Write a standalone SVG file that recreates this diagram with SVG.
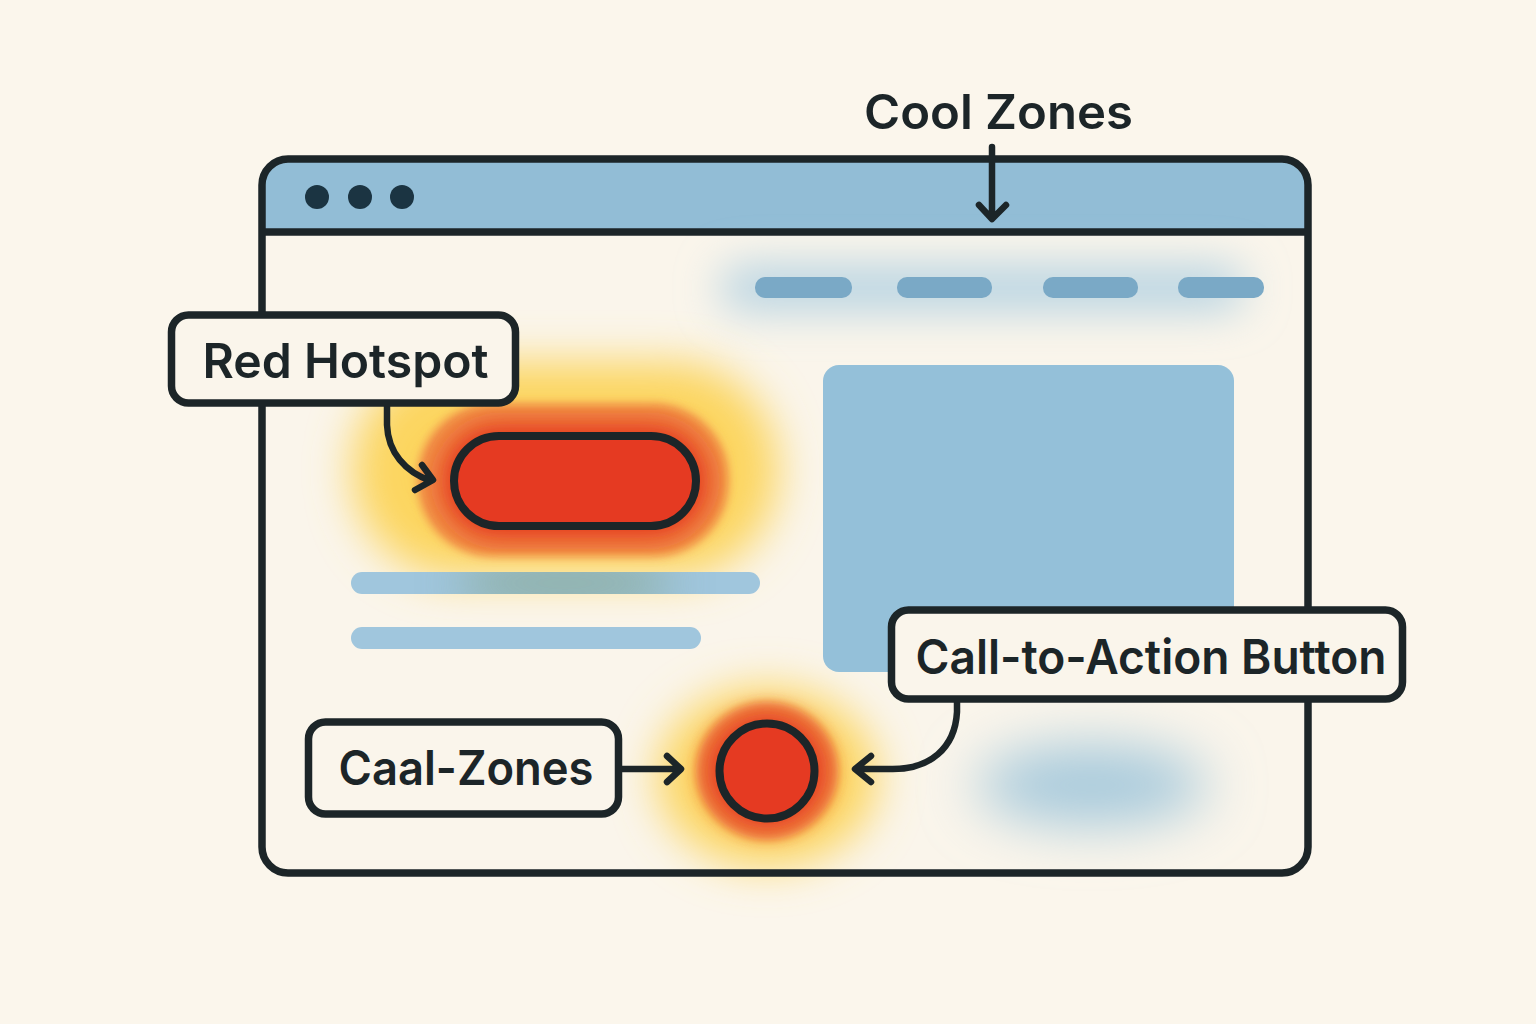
<svg xmlns="http://www.w3.org/2000/svg" width="1536" height="1024" viewBox="0 0 1536 1024">
<defs>
<style>
.ln{fill:none;stroke:#1c2528;stroke-width:6.500;stroke-linecap:round;stroke-linejoin:round}
.box{fill:#faf5eb;stroke:#1c2528;stroke-width:7.500}
.lbl{font-family:Inter,"Liberation Sans",sans-serif;font-weight:600;fill:#1c2528;font-size:48px;text-anchor:middle}
.nav{fill:#7aa9c6}
.bar{fill:#a0c6dd}
.dot{fill:#1b3442}
</style>
<filter id="b5" filterUnits="userSpaceOnUse" x="0" y="0" width="1536" height="1024"><feGaussianBlur stdDeviation="5"/></filter>
<filter id="b12" filterUnits="userSpaceOnUse" x="0" y="0" width="1536" height="1024"><feGaussianBlur stdDeviation="12"/></filter>
<filter id="b22" filterUnits="userSpaceOnUse" x="0" y="0" width="1536" height="1024"><feGaussianBlur stdDeviation="22"/></filter>
<filter id="b28" filterUnits="userSpaceOnUse" x="0" y="0" width="1536" height="1024"><feGaussianBlur stdDeviation="28"/></filter>
<clipPath id="barclip"><rect x="351" y="572" width="409" height="22" rx="11"/></clipPath>
</defs>
<rect width="1536" height="1024" fill="#fbf6ec"/>
<g id="window">
<rect x="262" y="159" width="1046" height="714" rx="26" fill="#faf5eb"/>
<path d="M262 232V185a26 26 0 0 1 26-26H1282a26 26 0 0 1 26 26V232Z" fill="#92bdd6"/>
</g>
<g id="cool-glows">
<rect x="720" y="266" width="525" height="44" rx="22" fill="#b4d2e2" filter="url(#b22)"/>
<ellipse cx="1092" cy="785" rx="116" ry="40" fill="#a6c9dc" filter="url(#b28)"/>
</g>
<g id="hotspot-glow">
<rect x="352" y="362" width="426" height="216" rx="106" fill="#fcd55f" filter="url(#b22)"/>
<rect x="418" y="404" width="310" height="152" rx="74" fill="#f08a45" filter="url(#b5)"/>
<rect x="442" y="424" width="266" height="114" rx="56" fill="#e5391f" filter="url(#b12)"/>
</g>
<g id="cta-glow">
<ellipse cx="767" cy="777" rx="110" ry="90" fill="#fcd55f" filter="url(#b22)"/>
<ellipse cx="767" cy="771" rx="71" ry="69" fill="#f08a45" filter="url(#b5)"/>
<ellipse cx="767" cy="771" rx="60" ry="58" fill="#e5391f" filter="url(#b12)"/>
</g>
<g id="content">
<rect x="823" y="365" width="411" height="307" rx="16" fill="#94c0d9"/>
<rect x="351" y="572" width="409" height="22" rx="11" class="bar"/>
<g clip-path="url(#barclip)"><ellipse cx="565" cy="583" rx="110" ry="30" fill="#8bab9c" opacity=".75" filter="url(#b22)"/></g>
<rect x="351" y="627" width="350" height="22" rx="11" class="bar"/>
<rect x="755" y="277" width="97" height="21" rx="10" class="nav"/>
<rect x="897" y="277" width="95" height="21" rx="10" class="nav"/>
<rect x="1043" y="277" width="95" height="21" rx="10" class="nav"/>
<rect x="1178" y="277" width="86" height="21" rx="10" class="nav"/>
</g>
<g id="window-frame">
<rect x="262" y="159" width="1046" height="714" rx="26" fill="none" stroke="#1c2528" stroke-width="7.500"/>
<line x1="262" y1="232" x2="1308" y2="232" stroke="#1c2528" stroke-width="7.500"/>
<circle cx="317" cy="197" r="12" class="dot"/>
<circle cx="360" cy="197" r="12" class="dot"/>
<circle cx="402" cy="197" r="12" class="dot"/>
</g>
<g id="red-button">
<rect x="454" y="436" width="242" height="90" rx="45" fill="#e53a22" stroke="#1c2528" stroke-width="8"/>
</g>
<g id="cta-circle">
<circle cx="767" cy="771" r="47.500" fill="#e53a22" stroke="#1c2528" stroke-width="8"/>
</g>
<g id="connectors">
<path class="ln" d="M992 147V218M979 205L992 219L1006 205"/>
<path class="ln" d="M387 406V425C388 452 405 472 431 481M422 465L433 480L415 490"/>
<path class="ln" d="M621 769H680M667 756L681 769L667 782"/>
<path class="ln" d="M957 702V712C955 748 930 770 890 769H856M871 756L855 769L871 782"/>
</g>
<g id="label-cool-zones">
<text class="lbl" x="998.500" y="129" textLength="269" lengthAdjust="spacingAndGlyphs">Cool Zones</text>
</g>
<g id="label-red-hotspot">
<rect class="box" x="171.500" y="315" width="344" height="88" rx="17"/>
<text class="lbl" x="345.500" y="378" textLength="286" lengthAdjust="spacingAndGlyphs">Red Hotspot</text>
</g>
<g id="label-cta">
<rect class="box" x="891.500" y="610" width="511" height="89" rx="17"/>
<text class="lbl" x="1151" y="674" textLength="471" lengthAdjust="spacingAndGlyphs">Call-to-Action Button</text>
</g>
<g id="label-caal">
<rect class="box" x="308.500" y="722" width="310" height="92" rx="17"/>
<text class="lbl" x="466" y="785" textLength="255" lengthAdjust="spacingAndGlyphs">Caal-Zones</text>
</g>
</svg>
